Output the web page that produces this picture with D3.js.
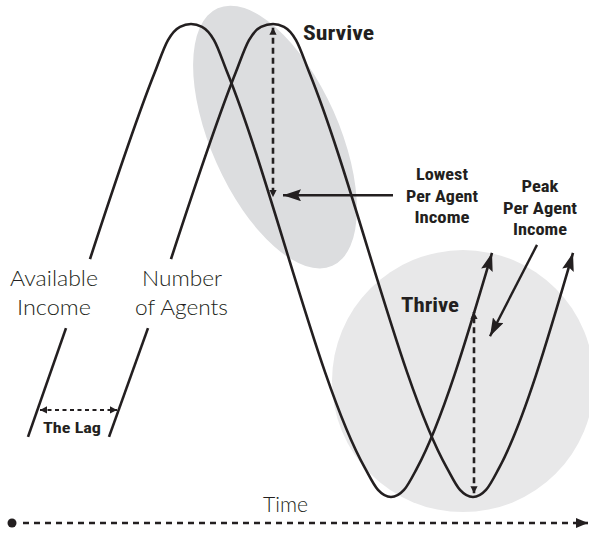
<!DOCTYPE html>
<html>
<head>
<meta charset="utf-8">
<script src="https://cdn.jsdelivr.net/npm/d3@7"></script>
<style>
  html, body { margin: 0; padding: 0; background: #fff; }
  #chart { width: 589px; height: 533px; }
</style>
</head>
<body>
<div id="chart"></div>
<script>
// Time runs 0..58 (arbitrary units), level runs 0 (trough) .. 100 (peak)
const incomeLead = [[2.0, 12.7], [5.8, 35.7]]
const incomeMain = [[8.2, 50.3], [14.7, 89.9], [16.0, 96.6], [17.2, 99.4], [18.3, 100], [19.4, 99.4], [20.6, 96.6],
  [21.9, 89.9], [35.7, 6.1], [37.0, 1.5], [38.3, 0], [39.6, 1.5], [40.9, 6.1], [48.4, 51.6]]
const agentsLead = [[10.1, 12.7], [14.0, 35.7]]
const agentsMain = [[16.3, 50.3], [22.8, 89.9], [24.1, 96.6], [25.3, 99.4], [26.5, 100], [27.6, 99.4], [28.8, 96.6],
  [30.1, 89.9], [43.9, 6.1], [45.2, 1.5], [46.5, 0], [47.8, 1.5], [49.1, 6.1], [56.5, 51.6]]

// gaps marked with dashed arrows: [time, from level, to level]
const surviveGap = [26.5, 99.2, 63.4]
const thriveGap = [46.6, 0.8, 39.1]
const lagSpan = [3.2, 10.9, 18.4] // from time, to time, level
const timeAxis = [0.4, 58, -5.5]

const seriesLabels = [['Available', 'Income'], ['Number', 'of Agents']]
const zoneLabels = ['Survive', 'Thrive']
const lowestLabel = ['Lowest', 'Per Agent', 'Income']
const peakLabel = ['Peak', 'Per Agent', 'Income']

const width = 589, height = 533
const ink = '#231f20'
const x = d3.scaleLinear().domain([0, 58]).range([8, 588])
const y = d3.scaleLinear().domain([0, 100]).range([497, 24])

const svg = d3.select('#chart').append('svg')
  .attr('width', width).attr('height', height)
  .attr('viewBox', `0 0 ${width} ${height}`)

const defs = svg.append('defs')
function marker(id, len, half, notch) {
  defs.append('marker').attr('id', id)
    .attr('viewBox', `${-len} ${-half} ${len} ${half * 2}`)
    .attr('refX', 0).attr('refY', 0)
    .attr('markerUnits', 'userSpaceOnUse')
    .attr('markerWidth', len).attr('markerHeight', half * 2)
    .attr('orient', 'auto-start-reverse')
    .append('path')
    .attr('d', `M0,0L${-len},${-half}L${-len + notch},0L${-len},${half}Z`)
    .attr('fill', ink)
}
marker('big', 18, 6, 3)
marker('small', 7, 3.6, 0)
marker('axis', 12, 5, 0)

// shaded zones
svg.append('ellipse')
  .attr('transform', `translate(${x(26.7)},${y(76.1)}) rotate(-24)`)
  .attr('rx', 64).attr('ry', 141)
  .attr('fill', '#dcdddf')
svg.append('circle')
  .attr('cx', x(45.5)).attr('cy', y(24.5)).attr('r', 131)
  .attr('fill', '#e8e8e9')

const line = d3.line().x(d => x(d[0])).y(d => y(d[1])).curve(d3.curveMonotoneX)
const curveStyle = sel => sel.attr('fill', 'none').attr('stroke', ink).attr('stroke-width', 2.6)

svg.append('path').attr('d', line(incomeLead)).call(curveStyle)
svg.append('path').attr('d', line(agentsLead)).call(curveStyle)
svg.append('path').attr('d', line(incomeMain)).call(curveStyle).attr('marker-end', 'url(#big)')
svg.append('path').attr('d', line(agentsMain)).call(curveStyle).attr('marker-end', 'url(#big)')

// dashed double arrows
function dashed(x1, y1, x2, y2, w, dash) {
  svg.append('line')
    .attr('x1', x1).attr('y1', y1).attr('x2', x2).attr('y2', y2)
    .attr('stroke', ink).attr('stroke-width', w)
    .attr('stroke-dasharray', dash)
    .attr('marker-start', 'url(#small)').attr('marker-end', 'url(#small)')
}
dashed(x(surviveGap[0]), y(surviveGap[1]), x(surviveGap[0]), y(surviveGap[2]), 2.6, '6,4')
dashed(x(thriveGap[0]), y(thriveGap[1]), x(thriveGap[0]), y(thriveGap[2]), 2.6, '6,4')
dashed(x(lagSpan[0]), y(lagSpan[2]), x(lagSpan[1]), y(lagSpan[2]), 2, '4,3.5')

// solid pointer arrows
svg.append('line')
  .attr('x1', x(38.5)).attr('y1', y(63.8)).attr('x2', x(27.5)).attr('y2', y(63.8))
  .attr('stroke', ink).attr('stroke-width', 2.4).attr('marker-end', 'url(#big)')
svg.append('line')
  .attr('x1', x(52.9)).attr('y1', y(53.3)).attr('x2', x(48.2)).attr('y2', y(34.0))
  .attr('stroke', ink).attr('stroke-width', 2.4).attr('marker-end', 'url(#big)')

// time axis
svg.append('circle').attr('cx', x(timeAxis[0])).attr('cy', y(timeAxis[2])).attr('r', 4.5).attr('fill', ink)
svg.append('line')
  .attr('x1', x(timeAxis[0]) + 11).attr('y1', y(timeAxis[2]))
  .attr('x2', x(timeAxis[1]) - 8).attr('y2', y(timeAxis[2]))
  .attr('stroke', ink).attr('stroke-width', 2.6).attr('stroke-dasharray', '6,5')
svg.append('line')
  .attr('x1', x(timeAxis[1]) - 10).attr('y1', y(timeAxis[2]))
  .attr('x2', x(timeAxis[1])).attr('y2', y(timeAxis[2]))
  .attr('stroke', ink).attr('stroke-width', 2.6).attr('marker-end', 'url(#axis)')

// text
const light = '"Lato", "Liberation Sans", sans-serif'
const bold = '"Liberation Sans Narrow", "Roboto Condensed", "DejaVu Sans Condensed", "Liberation Sans", sans-serif'
function label(str, cx, base, size, len, heavy) {
  svg.append('text')
    .attr('x', cx).attr('y', base)
    .attr('text-anchor', 'middle')
    .attr('textLength', len).attr('lengthAdjust', 'spacingAndGlyphs')
    .attr('fill', ink)
    .style('font-family', heavy ? bold : light)
    .style('font-weight', heavy ? 700 : 300)
    .style('font-stretch', heavy ? 'condensed' : 'normal')
    .style('font-size', `${size}px`)
    .text(str)
}
label(seriesLabels[0][0], 54, 286, 22, 88)
label(seriesLabels[0][1], 54, 315, 22, 74)
label(seriesLabels[1][0], 182, 286, 22, 80)
label(seriesLabels[1][1], 181.5, 315, 22, 93)
label('Time', 285.5, 512, 22, 45)

label(zoneLabels[0], 338.5, 40, 20, 71, true)
label(zoneLabels[1], 430, 312, 21, 58, true)
label('The Lag', 72, 433, 15, 58, true)

const lowW = [52, 72, 55]
lowestLabel.forEach((s, i) => label(s, 442, 180 + i * 21.5, 17, lowW[i], true))
const peakW = [37, 74, 54]
peakLabel.forEach((s, i) => label(s, 540, 192 + i * 21.5, 17, peakW[i], true))
</script>
</body>
</html>
